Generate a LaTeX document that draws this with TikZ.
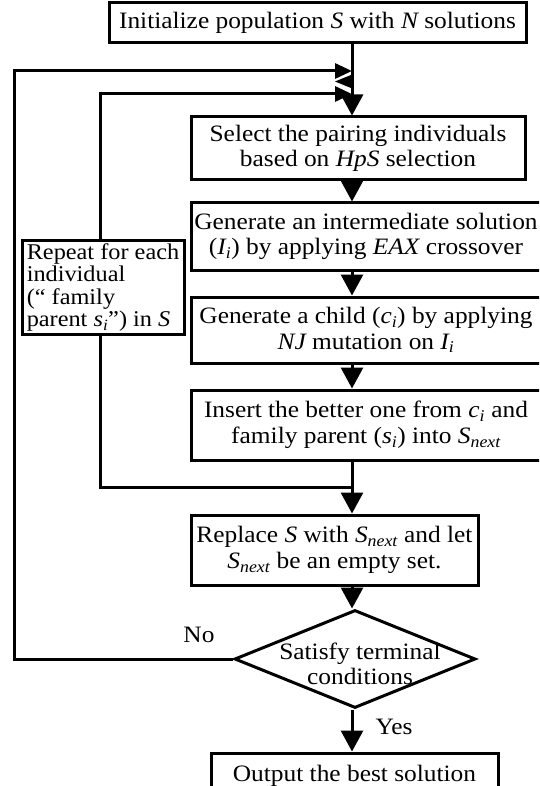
\documentclass[tikz,border=0pt]{standalone}
\usepackage{fontspec}
\setmainfont{Liberation Serif}[FakeStretch=1.08]
\usetikzlibrary{shapes.geometric,arrows.meta}
\newcommand{\mysub}[1]{\textsubscript{\itshape #1}}
\begin{document}
\begin{tikzpicture}[x=1pt,y=1pt,
  every node/.style={font=\fontsize{23.5}{25.5}\selectfont},
  box/.style={draw,line width=3pt,fill=white,align=center,inner sep=2pt},
  link/.style={line width=3pt},
  arr/.style={link,-{Triangle[length=21pt,width=22pt]}},
  arrs/.style={link,-{Triangle[length=17pt,width=15pt]}}]
\useasboundingbox (0,0) rectangle (539,-786);
\clip (0,0) rectangle (539,-786);

% junction coordinates
\coordinate (jo) at (352,-71);
\coordinate (ji) at (352,-94);
\coordinate (jb) at (352,-487);
\coordinate (oL) at (14,-71);
\coordinate (iL) at (100,-94);

% boxes
\node[box,minimum width=417pt,minimum height=40pt] (init) at (317.5,-23) {Initialize population {\itshape S} with {\itshape N} solutions};
\node[box,minimum width=334pt,minimum height=63pt] (sel) at (358,-148.5) {Select the pairing individuals\\based on {\itshape HpS} selection};
\node[box,minimum width=350pt,minimum height=67pt] (gen) at (366,-236.5) {Generate an intermediate solution\\({\itshape I}\mysub{i}) by applying {\itshape EAX} crossover};
\node[box,minimum width=350pt,minimum height=66pt] (child) at (366,-330) {Generate a child ({\itshape c}\mysub{i}) by applying\\{\itshape NJ} mutation on {\itshape I}\mysub{i}};
\node[box,minimum width=350pt,minimum height=70pt] (ins) at (366,-425) {Insert the better one from {\itshape c}\mysub{i} and\\family parent ({\itshape s}\mysub{i}) into {\itshape S}\mysub{next}};
\node[box,minimum width=287pt,minimum height=70pt] (rep) at (334.5,-550) {Replace {\itshape S} with {\itshape S}\mysub{next} and let\\{\itshape S}\mysub{next} be an empty set.};
\node[draw,diamond,line width=3pt,minimum width=241pt,minimum height=98pt,inner sep=0pt] (dia) at (355,-659) {};
\node[align=center,inner sep=0pt] (diat) at (360,-664) {Satisfy terminal\\conditions};
\node[box,minimum width=287pt,minimum height=46pt] (out) at (354.5,-776) {Output the best solution};

% vertical flow
\draw[arr] (init.south -| jo) -- (sel.north -| jo);
\draw[arr] (sel.south -| jo) -- (gen.north -| jo);
\draw[arr] (gen.south -| jo) -- (child.north -| jo);
\draw[arr] (child.south -| jo) -- (ins.north -| jo);
\draw[arr] (ins.south -| jo) -- (rep.north -| jo);
\draw[arr] (rep.south -| jo) -- (dia.north -| jo);
\draw[arr] (dia.south -| jo) -- (out.north -| jo);

% loops
\draw[arrs] (dia.west) -| (oL) -- (jo);
\draw[arrs] (jb) -| (iL) -- (ji);
\fill (351,-75) -- (351,-88) -- (335,-81.5) -- cycle;

% repeat box on inner loop
\node[box,align=left,minimum width=162pt,minimum height=91pt,inner sep=3pt,font=\fontsize{22.5}{22.5}\selectfont] (rpt) at (103,-287.5) {Repeat for each\\individual\\(“ family\\parent {\itshape s}\mysub{i}”) in {\itshape S}};

% labels
\node (no) at (199,-635) {No};
\node (yes) at (394,-727) {Yes};
\end{tikzpicture}
\end{document}
